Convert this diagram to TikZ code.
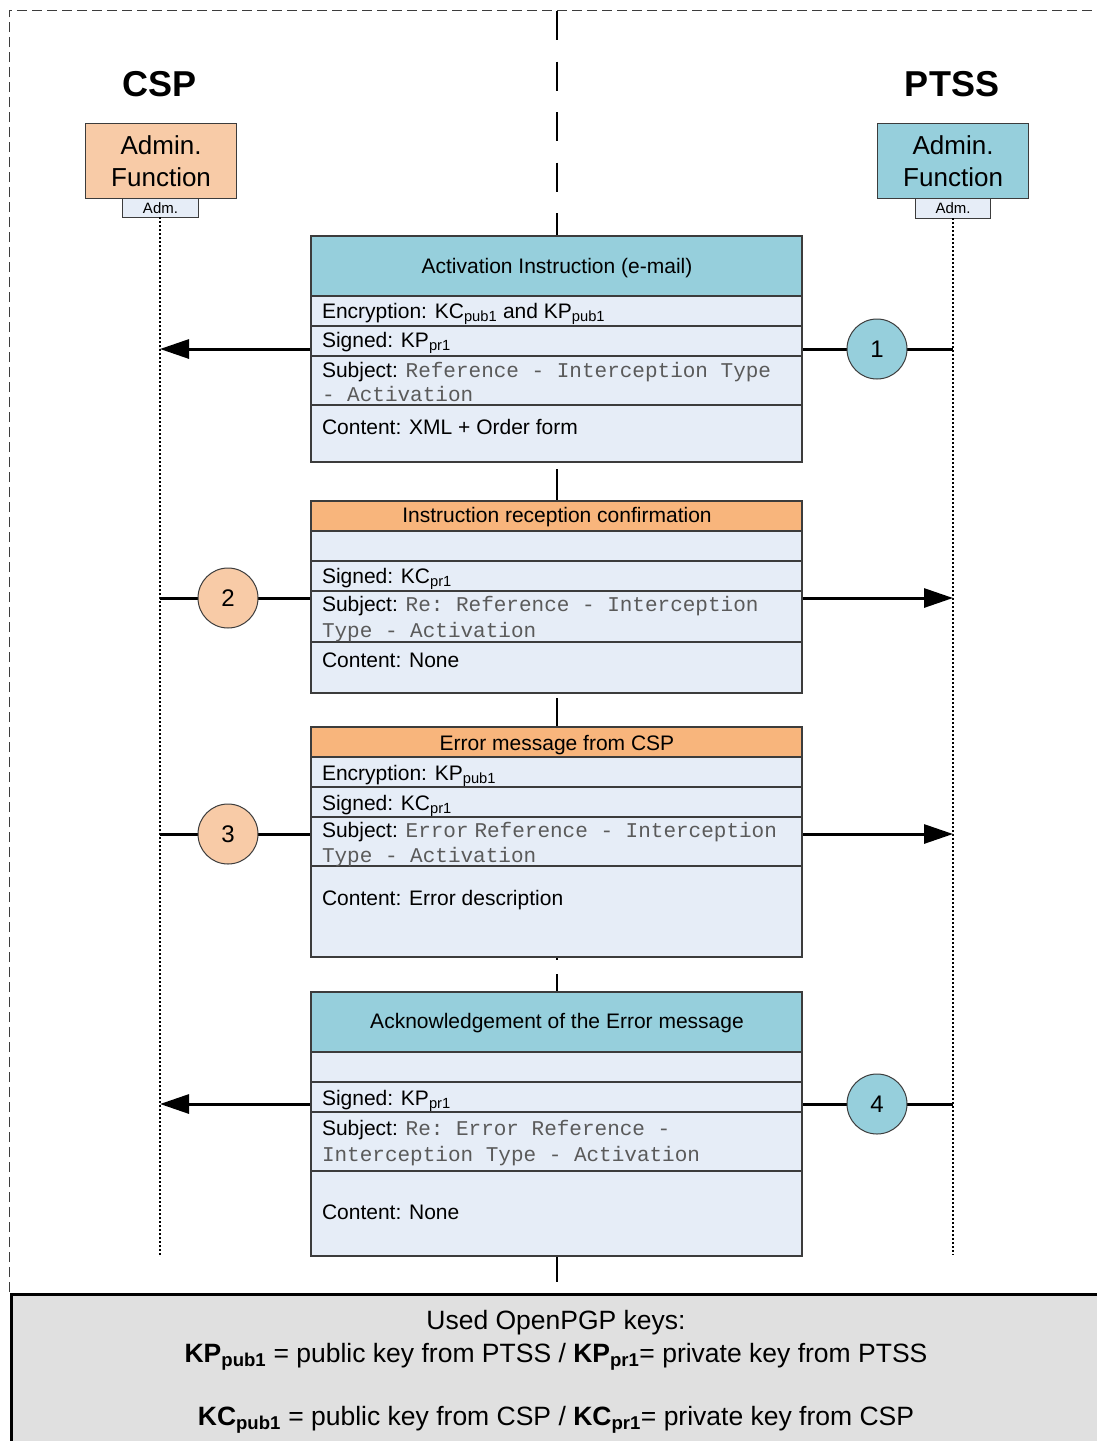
\documentclass[tikz,border=0pt]{standalone}
\usepackage{fontspec}
\setmainfont{Liberation Sans}
\setmonofont{Liberation Mono}
\usetikzlibrary{arrows.meta}
\definecolor{cTeal}{HTML}{96CFDC}
\definecolor{cOrange}{HTML}{F8B57C}
\definecolor{cPeach}{HTML}{F8CBA7}
\definecolor{cRow}{HTML}{E6EDF7}
\definecolor{cLine}{HTML}{3C3C3C}
\definecolor{cMono}{HTML}{5A5A5A}
\definecolor{cLegend}{HTML}{E0E0E0}
\newcommand{\myBoxFont}{\fontsize{21}{25}\selectfont}
\newcommand{\monoTxt}[1]{{\ttfamily\color{cMono}#1}}
\begin{document}
\begin{tikzpicture}[x=1pt,y=-1pt,
  boxline/.style={draw=cLine, line width=1.2pt, inner sep=0pt, outer sep=0pt, anchor=north west, minimum width=491pt},
  hdr/.style={boxline},
  row/.style={boxline, fill=cRow},
  txt/.style={inner sep=0pt, outer sep=0pt, font=\myBoxFont, text=black},
  msg/.style={line width=3pt, -{Triangle[length=29pt,width=19pt]}},
  num/.style={circle, draw=cLine, line width=1pt, minimum size=60pt, inner sep=0pt, font=\fontsize{24}{28}\selectfont},
  life/.style={line width=1.5pt, dash pattern=on 2pt off 2pt},
  admin/.style={draw=cLine, line width=1.2pt, anchor=north west, minimum width=151pt, minimum height=75pt, inner sep=0pt, align=center, font=\fontsize{26}{32}\selectfont},
  adm/.style={draw=cLine, line width=1pt, fill=cRow, anchor=north west, minimum height=19pt, inner sep=0pt, font=\fontsize{15}{18}\selectfont},
  ctrline/.style={line width=1.5pt},
  outerb/.style={draw=cLine, line width=1pt, dash pattern=on 10pt off 5pt},
  legtxt/.style={inner sep=0pt, outer sep=0pt, font=\fontsize{26.5}{31}\selectfont, anchor=base}
]
\useasboundingbox (0,0) rectangle (1097,1441);
\fill[white] (0,0) rectangle (1097,1441);

% outer dashed frame
\draw[outerb] (9,1292) -- (9,10) -- (1100,10);

% central separator
\draw[ctrline, dash pattern=on 29pt off 21.5pt] (557,11) -- (557,236);
\draw[ctrline] (557,469) -- (557,501);
\draw[ctrline] (557,698) -- (557,727);
\draw[ctrline] (557,957) -- (557,960);
\draw[ctrline] (557,974) -- (557,992);
\draw[ctrline] (557,1256) -- (557,1282);

% titles
\node[font=\fontsize{36}{40}\selectfont\bfseries, anchor=base, inner sep=0pt] (cspT) at (160,96) {CSP};
\node[font=\fontsize{36}{40}\selectfont\bfseries, anchor=base, inner sep=0pt] (ptssT) at (952,96) {PTSS};

% admin functions
\node[admin, fill=cPeach] (cspA) at (85,123) {Admin.\\Function};
\node[adm, minimum width=76pt] (cspAdm) at (122,198) {Adm.};
\node[admin, fill=cTeal] (ptssA) at (877,123) {Admin.\\Function};
\node[adm, minimum width=75pt, minimum height=20pt] (ptssAdm) at (915,198) {Adm.};

% lifelines
\coordinate (cTop) at (160,217);
\coordinate (cBot) at (160,1255);
\coordinate (pTop) at (953,218);
\coordinate (pBot) at (953,1255);
\draw[life] (cTop) -- (cBot);
\draw[life] (pTop) -- (pBot);

% message connectors
\coordinate (p1) at (953,349); \coordinate (c1) at (160,349);
\coordinate (c2) at (160,598); \coordinate (p2) at (953,598);
\coordinate (c3) at (160,834); \coordinate (p3) at (953,834);
\coordinate (p4) at (953,1104); \coordinate (c4) at (160,1104);
\draw[msg] (p1) -- (c1);
\draw[msg] (c2) -- (p2);
\draw[msg] (c3) -- (p3);
\draw[msg] (p4) -- (c4);

% circles
\node[num, fill=cTeal] (n1) at (877,349) {1};
\node[num, fill=cPeach] (n2) at (228,598) {2};
\node[num, fill=cPeach] (n3) at (228,834) {3};
\node[num, fill=cTeal] (n4) at (877,1104) {4};

% ---- Box 1
\node[hdr, fill=cTeal, minimum height=60pt] (b1h) at (311,236) {};
\node[row, minimum height=30pt] (b1r1) at (311,296) {};
\node[row, minimum height=30pt] (b1r2) at (311,326) {};
\node[row, minimum height=49pt] (b1r3) at (311,356) {};
\node[row, minimum height=57pt] (b1r4) at (311,405) {};
\node[txt, anchor=base] (b1t) at (557,273) {Activation Instruction (e-mail)};
\node[txt, anchor=base west] (b1a) at (322,318) {Encryption: KC\textsubscript{pub1} and KP\textsubscript{pub1}};
\node[txt, anchor=base west] (b1b) at (322,347) {Signed: KP\textsubscript{pr1}};
\node[txt, anchor=base west] (b1c) at (322,377) {Subject: \monoTxt{Reference - Interception Type}};
\node[txt, anchor=base west] (b1c2) at (322,401) {\monoTxt{- Activation}};
\node[txt, anchor=base west] (b1d) at (322,434) {Content: XML + Order form};

% ---- Box 2
\node[hdr, fill=cOrange, minimum height=30pt] (b2h) at (311,501) {};
\node[row, minimum height=30pt] (b2r1) at (311,531) {};
\node[row, minimum height=30pt] (b2r2) at (311,561) {};
\node[row, minimum height=51pt] (b2r3) at (311,591) {};
\node[row, minimum height=51pt] (b2r4) at (311,642) {};
\node[txt, anchor=base] (b2t) at (557,522) {Instruction reception confirmation};
\node[txt, anchor=base west] (b2b) at (322,583) {Signed: KC\textsubscript{pr1}};
\node[txt, anchor=base west] (b2c) at (322,611) {Subject: \monoTxt{Re: Reference - Interception}};
\node[txt, anchor=base west] (b2c2) at (322,637) {\monoTxt{Type - Activation}};
\node[txt, anchor=base west] (b2d) at (322,667) {Content: None};

% ---- Box 3
\node[hdr, fill=cOrange, minimum height=30pt] (b3h) at (311,727) {};
\node[row, minimum height=30pt] (b3r1) at (311,757) {};
\node[row, minimum height=30pt] (b3r2) at (311,787) {};
\node[row, minimum height=49pt] (b3r3) at (311,817) {};
\node[row, minimum height=91pt] (b3r4) at (311,866) {};
\node[txt, anchor=base] (b3t) at (557,750) {Error message from CSP};
\node[txt, anchor=base west] (b3a) at (322,780) {Encryption: KP\textsubscript{pub1}};
\node[txt, anchor=base west] (b3b) at (322,810) {Signed: KC\textsubscript{pr1}};
\node[txt, anchor=base west] (b3c) at (322,837) {Subject: \monoTxt{Error} \monoTxt{Reference - Interception}};
\node[txt, anchor=base west] (b3c2) at (322,862) {\monoTxt{Type - Activation}};
\node[txt, anchor=base west] (b3d) at (322,905) {Content: Error description};

% ---- Box 4
\node[hdr, fill=cTeal, minimum height=60pt] (b4h) at (311,992) {};
\node[row, minimum height=30pt] (b4r1) at (311,1052) {};
\node[row, minimum height=30pt] (b4r2) at (311,1082) {};
\node[row, minimum height=59pt] (b4r3) at (311,1112) {};
\node[row, minimum height=85pt] (b4r4) at (311,1171) {};
\node[txt, anchor=base] (b4t) at (557,1028) {Acknowledgement of the Error message};
\node[txt, anchor=base west] (b4b) at (322,1105) {Signed: KP\textsubscript{pr1}};
\node[txt, anchor=base west] (b4c) at (322,1135) {Subject: \monoTxt{Re: Error Reference -}};
\node[txt, anchor=base west] (b4c2) at (322,1161) {\monoTxt{Interception Type - Activation}};
\node[txt, anchor=base west] (b4d) at (322,1219) {Content: None};

% ---- Legend
\node[draw=black, line width=3pt, fill=cLegend, anchor=north west, minimum width=1110pt, minimum height=170pt, inner sep=0pt] (leg) at (10,1293) {};
\node[legtxt] (leg1) at (556,1329) {Used OpenPGP keys:};
\node[legtxt] (leg2) at (556,1362) {\textbf{KP}\textsubscript{\textbf{pub1}} = public key from PTSS / \textbf{KP}\textsubscript{\textbf{pr1}}= private key from PTSS};
\node[legtxt] (leg3) at (556,1425) {\textbf{KC}\textsubscript{\textbf{pub1}} = public key from CSP / \textbf{KC}\textsubscript{\textbf{pr1}}= private key from CSP};
\end{tikzpicture}
\end{document}
